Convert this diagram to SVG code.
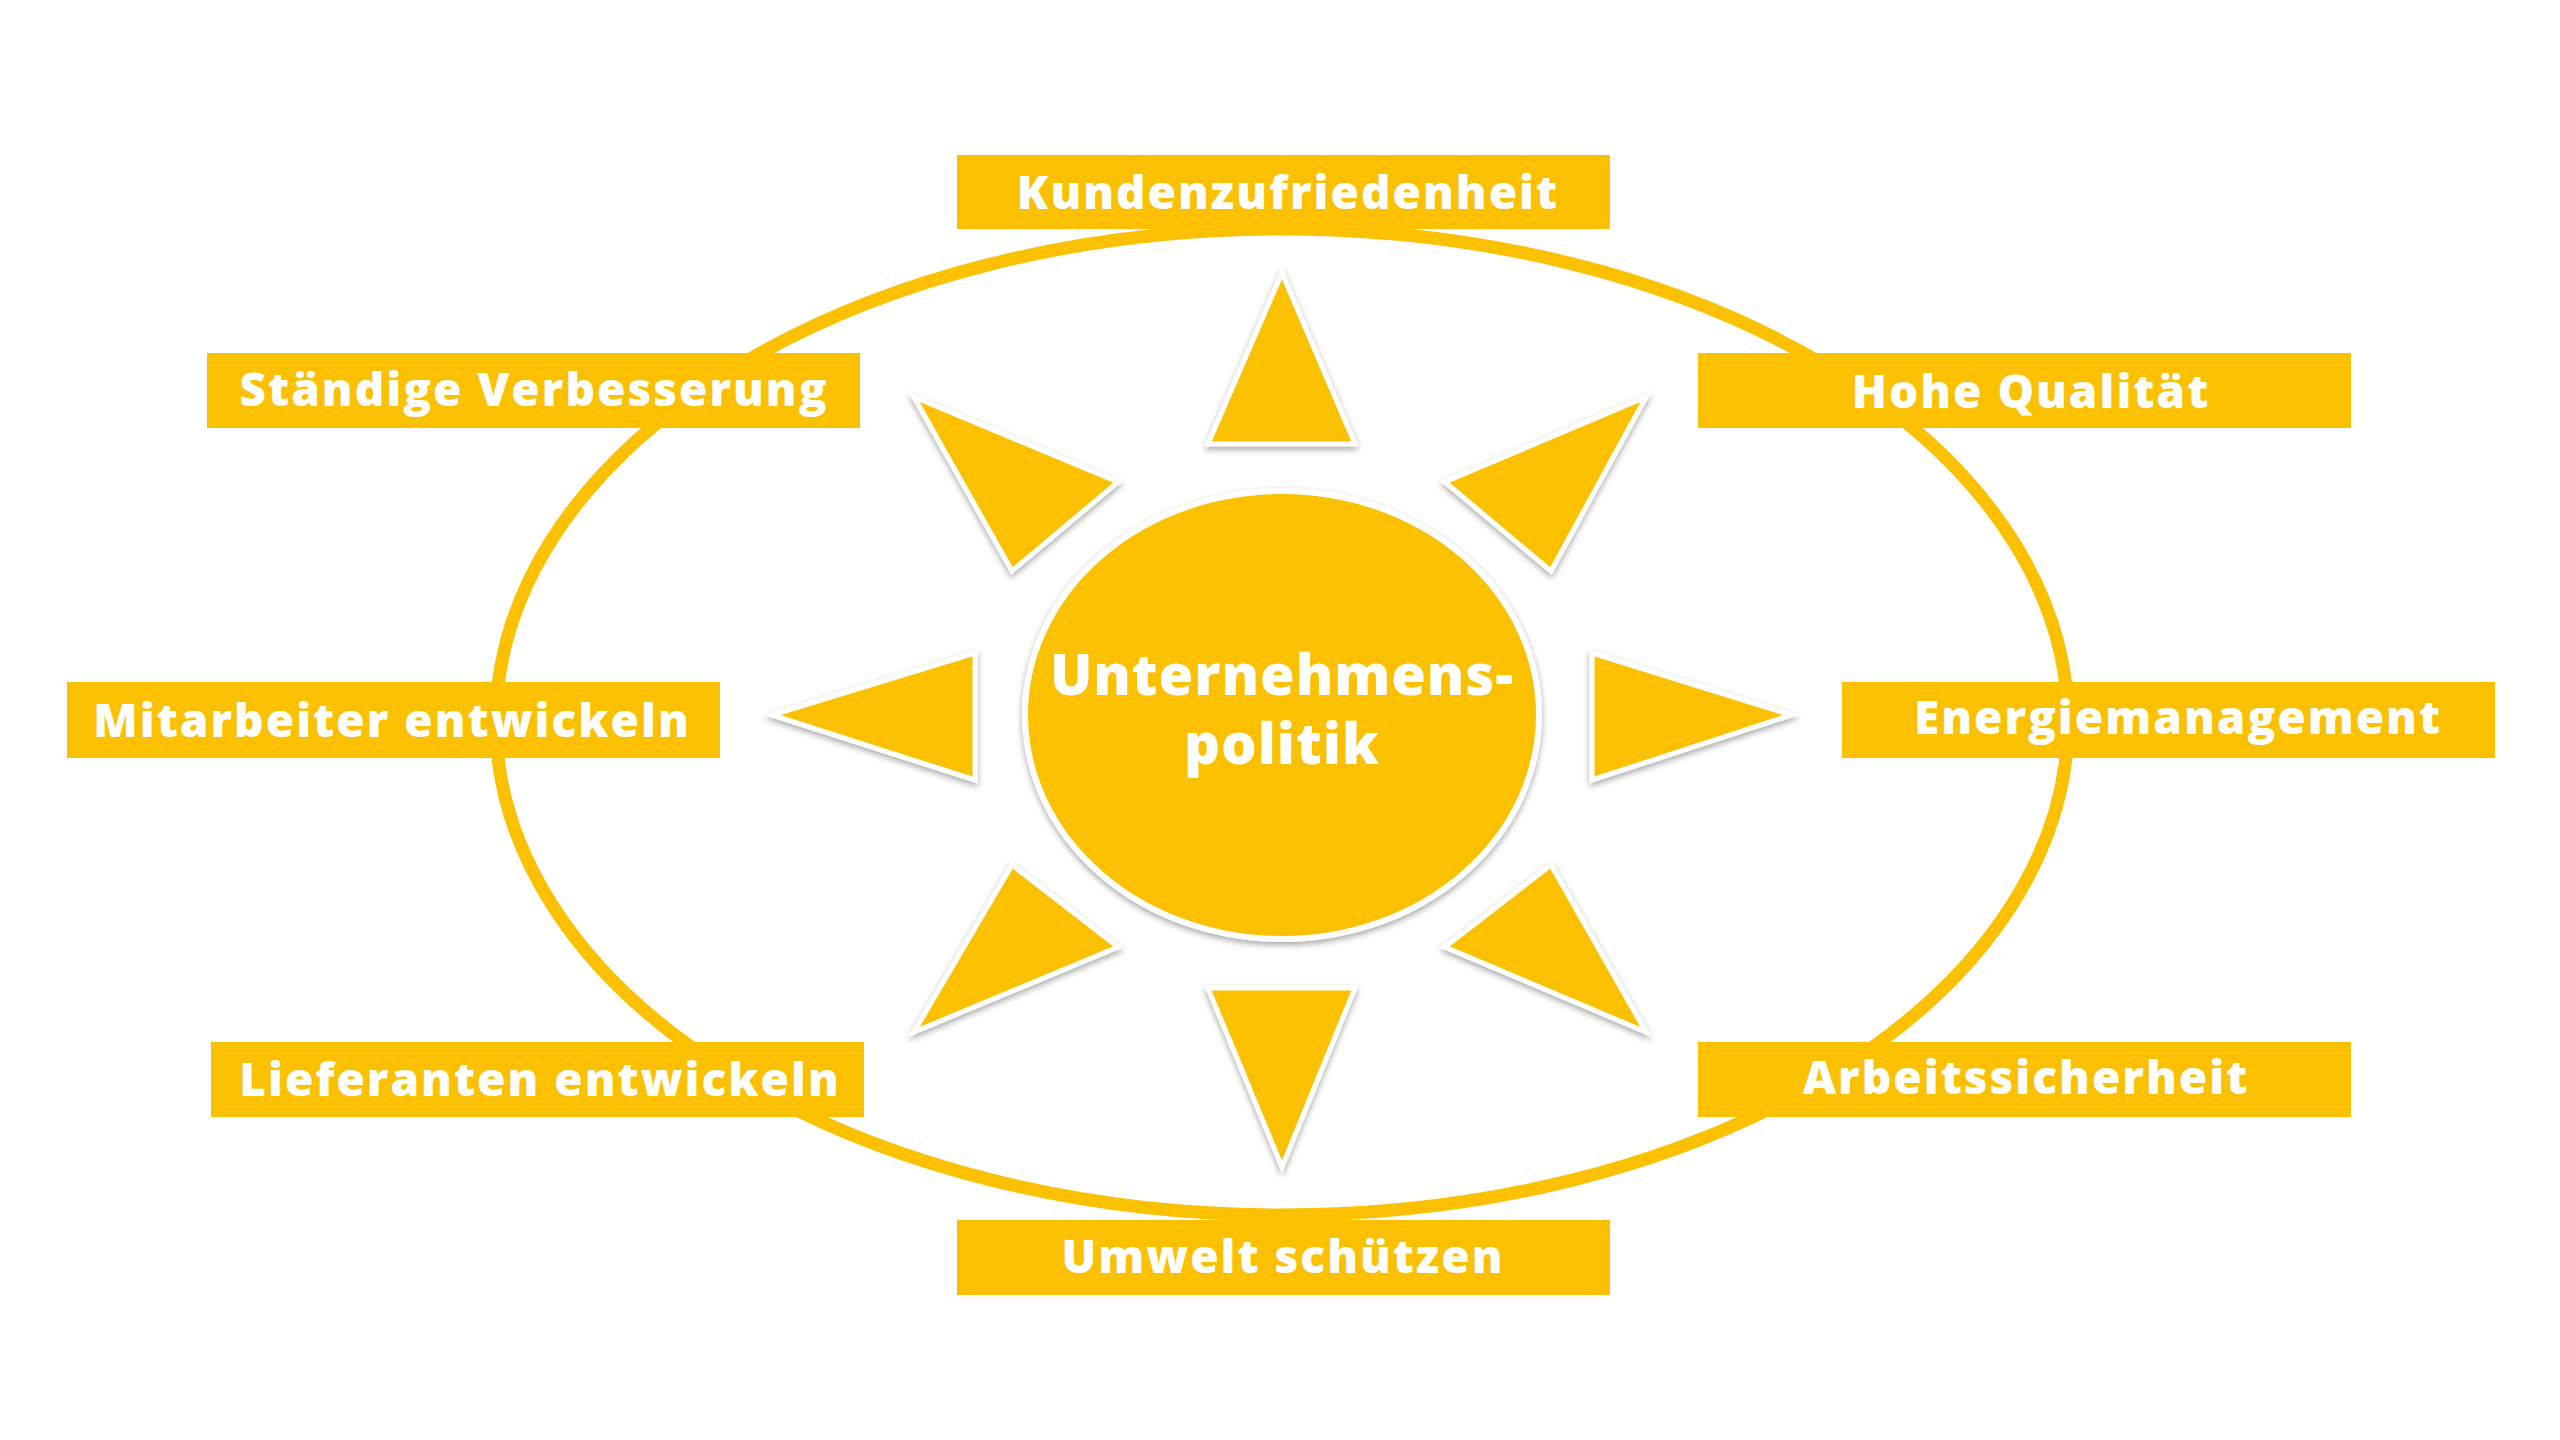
<svg xmlns="http://www.w3.org/2000/svg" width="2560" height="1440" viewBox="0 0 2560 1440">
<defs>
<filter id="sh" x="-20%" y="-20%" width="140%" height="140%"><feDropShadow dx="0" dy="3" stdDeviation="3" flood-color="#000" flood-opacity="0.35"/></filter>
<style>
.box{fill:#FBC000}
.t{font-family:"Open Sans","Liberation Sans",sans-serif;font-weight:800;font-size:46px;fill:#fff;text-anchor:middle;dominant-baseline:central;letter-spacing:2px}
.c{font-size:56px;letter-spacing:1px}
.ray{fill:#FBC000;stroke:#fff;stroke-width:5;stroke-linejoin:miter;filter:url(#sh)}
</style>
</defs>
<rect width="2560" height="1440" fill="#fff"/>
<g id="ring"><ellipse cx="1282" cy="722" rx="786" ry="493" fill="none" stroke="#FBC000" stroke-width="13"/></g>
<g id="rays">
<polygon class="ray" points="1282,273 1208,444 1355,444"/>
<polygon class="ray" points="1646,397 1445,482 1551,571"/>
<polygon class="ray" points="1592,653 1791,715 1592,780"/>
<polygon class="ray" points="1551,865 1445,947 1646,1032"/>
<polygon class="ray" points="1208,988 1355,988 1282,1167"/>
<polygon class="ray" points="1012,865 1118,947 914,1032"/>
<polygon class="ray" points="975,653 772,715 975,780"/>
<polygon class="ray" points="914,397 1118,482 1012,571"/>
</g>
<g id="center"><ellipse cx="1282" cy="715" rx="257" ry="224" fill="#FBC000" stroke="#fff" stroke-width="6" filter="url(#sh)"/>
<text class="t c" x="1282" y="673">Unternehmens-</text>
<text class="t c" x="1282" y="742">politik</text></g>
<g id="n1"><rect class="box" x="957" y="155" width="653" height="74"/><text class="t" x="1288" y="191">Kundenzufriedenheit</text></g>
<g id="n2"><rect class="box" x="207" y="353" width="653" height="75"/><text class="t" x="534" y="388">Ständige Verbesserung</text></g>
<g id="n3"><rect class="box" x="1698" y="353" width="653" height="75"/><text class="t" x="2031" y="390">Hohe Qualität</text></g>
<g id="n4"><rect class="box" x="67" y="682" width="653" height="76"/><text class="t" x="392" y="719">Mitarbeiter entwickeln</text></g>
<g id="n5"><rect class="box" x="1842" y="682" width="653" height="76"/><text class="t" x="2178" y="716">Energiemanagement</text></g>
<g id="n6"><rect class="box" x="211" y="1042" width="653" height="75"/><text class="t" x="540" y="1078">Lieferanten entwickeln</text></g>
<g id="n7"><rect class="box" x="1698" y="1042" width="653" height="75"/><text class="t" x="2026" y="1076">Arbeitssicherheit</text></g>
<g id="n8"><rect class="box" x="957" y="1220" width="653" height="75"/><text class="t" x="1283" y="1255">Umwelt schützen</text></g>
</svg>
